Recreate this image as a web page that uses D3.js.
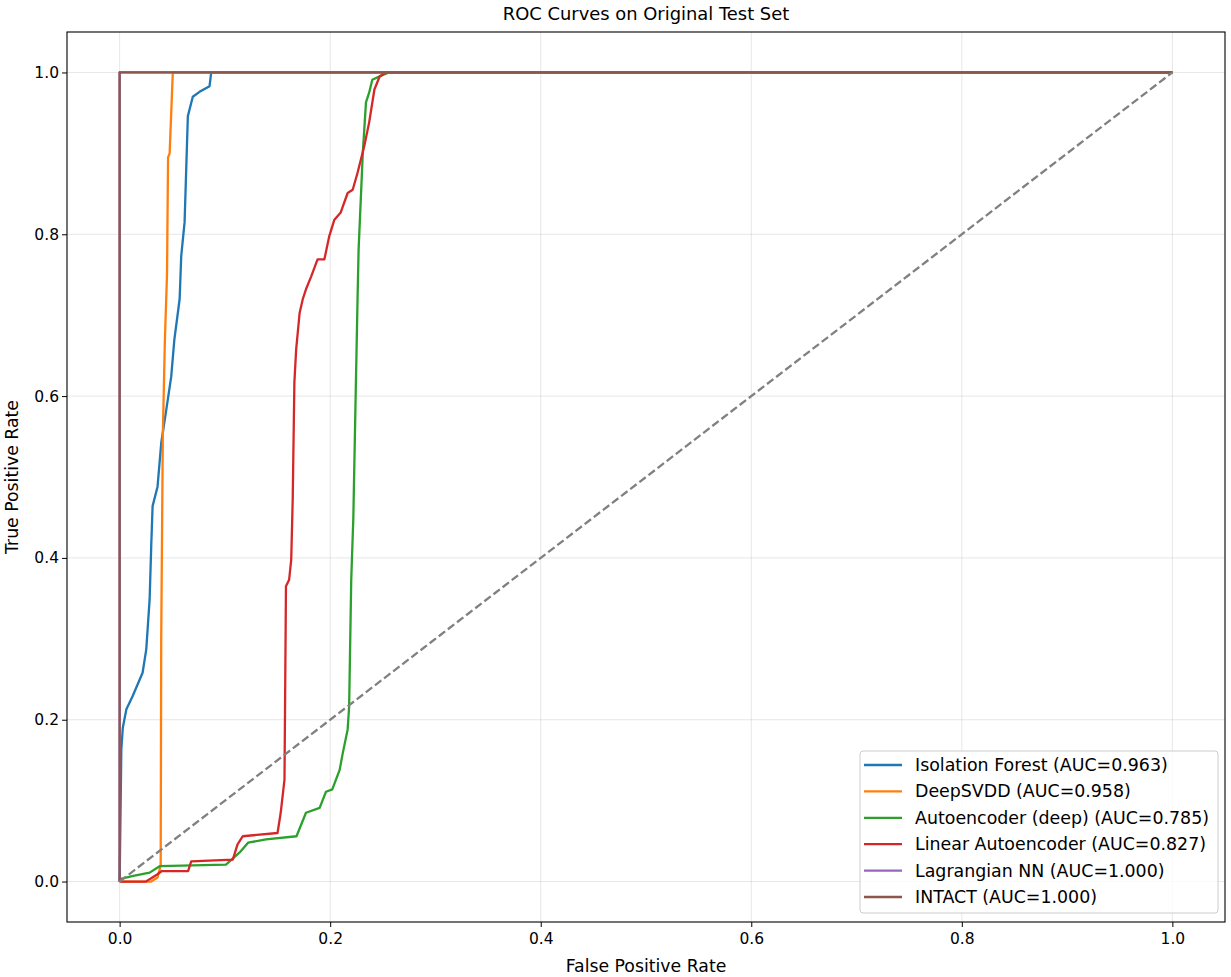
<!DOCTYPE html>
<html>
<head>
<meta charset="utf-8">
<script src="https://cdn.jsdelivr.net/npm/d3@7"></script>
<style>
    body { margin: 0; background: #fff; }
    svg text { font-family: "DejaVu Sans", sans-serif; fill: #000; }
</style>
</head>
<body>
<svg id="roc"></svg>
<script>
// data: [fpr, tpr] pairs per model
const isoForest = [[0,0],[0.001,0.1],[0.0016,0.163],[0.003,0.19],[0.0064,0.213],[0.0123,0.229],[0.0218,0.258],[0.0253,0.287],[0.0285,0.349],[0.030,0.414],[0.0313,0.464],[0.036,0.488],[0.0396,0.543],[0.0443,0.583],[0.049,0.624],[0.052,0.67],[0.057,0.72],[0.0585,0.773],[0.0617,0.815],[0.0648,0.946],[0.0695,0.970],[0.0759,0.976],[0.0854,0.983],[0.087,1.0],[1,1]];
const deepSvdd = [[0,0],[0.03,0],[0.036,0.005],[0.039,0.02],[0.0395,0.3],[0.041,0.55],[0.043,0.67],[0.045,0.75],[0.046,0.895],[0.0475,0.9],[0.0505,1],[1,1]];
const aeDeep = [[0,0],[0,0.003],[0.013,0.007],[0.0285,0.011],[0.038,0.019],[0.101,0.021],[0.114,0.036],[0.122,0.048],[0.139,0.052],[0.168,0.056],[0.177,0.085],[0.19,0.091],[0.196,0.111],[0.202,0.114],[0.209,0.138],[0.212,0.159],[0.2166,0.188],[0.218,0.216],[0.220,0.373],[0.222,0.45],[0.224,0.587],[0.226,0.72],[0.227,0.781],[0.231,0.901],[0.234,0.963],[0.237,0.975],[0.240,0.991],[0.25,0.997],[0.256,1],[1,1]];
const linearAe = [[0,0],[0.025,0],[0.03,0.004],[0.036,0.009],[0.040,0.013],[0.065,0.013],[0.068,0.025],[0.1075,0.027],[0.112,0.046],[0.117,0.056],[0.150,0.060],[0.153,0.085],[0.1566,0.126],[0.158,0.365],[0.161,0.373],[0.163,0.398],[0.1644,0.472],[0.166,0.617],[0.1677,0.658],[0.171,0.703],[0.174,0.72],[0.177,0.732],[0.182,0.748],[0.188,0.769],[0.1945,0.769],[0.199,0.797],[0.204,0.818],[0.210,0.827],[0.2166,0.851],[0.2214,0.855],[0.226,0.876],[0.2324,0.909],[0.237,0.938],[0.242,0.979],[0.247,0.995],[0.253,1],[1,1]];
const lagrangianNN = [[0,0],[0,1],[1,1]];
const intact = [[0,0],[0,1],[1,1]];

const modelNames = ['Isolation Forest (AUC=0.963)', 'DeepSVDD (AUC=0.958)', 'Autoencoder (deep) (AUC=0.785)',
    'Linear Autoencoder (AUC=0.827)', 'Lagrangian NN (AUC=1.000)', 'INTACT (AUC=1.000)'];
const modelColors = ['#1f77b4', '#ff7f0e', '#2ca02c', '#d62728', '#9467bd', '#8c564b'];
const modelCurves = [isoForest, deepSvdd, aeDeep, linearAe, lagrangianNN, intact];
const tickValues = [0, 0.2, 0.4, 0.6, 0.8, 1.0];

const size = { w: 1231, h: 977 };
const margin = { t: 32, r: 6, b: 55, l: 67 };

const svg = d3.select('svg#roc')
    .attr('width', size.w)
    .attr('height', size.h);

const pw = size.w - margin.l - margin.r;
const ph = size.h - margin.t - margin.b;

const x = d3.scaleLinear().domain([-0.05, 1.05]).range([0, pw]);
const y = d3.scaleLinear().domain([-0.05, 1.05]).range([ph, 0]);

const g = svg.append('g')
    .attr('transform', `translate(${margin.l}, ${margin.t})`);

// grid
g.append('g').selectAll('line')
    .data(tickValues)
    .join('line')
    .attr('x1', d => x(d)).attr('x2', d => x(d))
    .attr('y1', 0).attr('y2', ph)
    .attr('stroke', '#b0b0b0').attr('stroke-opacity', 0.3).attr('stroke-width', 1);
g.append('g').selectAll('line')
    .data(tickValues)
    .join('line')
    .attr('y1', d => y(d)).attr('y2', d => y(d))
    .attr('x1', 0).attr('x2', pw)
    .attr('stroke', '#b0b0b0').attr('stroke-opacity', 0.3).attr('stroke-width', 1);

const line = d3.line().x(d => x(d[0])).y(d => y(d[1]));

g.selectAll('path.curve')
    .data(modelCurves)
    .join('path')
    .classed('curve', true)
    .attr('d', line)
    .attr('fill', 'none')
    .attr('stroke', (d, i) => modelColors[i])
    .attr('stroke-width', 2.3)
    .attr('stroke-linejoin', 'round');

// chance diagonal
g.append('path')
    .attr('d', line([[0, 0], [1, 1]]))
    .attr('fill', 'none')
    .attr('stroke', '#808080')
    .attr('stroke-width', 2.3)
    .attr('stroke-dasharray', '8,3.5');

// axes
const fmt = d3.format('.1f');
const xAxis = g.append('g')
    .attr('transform', `translate(0, ${ph})`)
    .call(d3.axisBottom(x).tickValues(tickValues).tickFormat(fmt).tickSize(5).tickSizeOuter(0));
const yAxis = g.append('g')
    .call(d3.axisLeft(y).tickValues(tickValues).tickFormat(fmt).tickSize(5).tickSizeOuter(0));
[xAxis, yAxis].forEach(a => {
    a.select('.domain').remove();
    a.selectAll('text').style('font-size', '15.5px');
    a.selectAll('line').attr('stroke', '#000').attr('stroke-width', 1);
});
xAxis.selectAll('text').attr('dy', '0.9em');
yAxis.selectAll('text').attr('x', -8);

// frame
g.append('rect')
    .attr('width', pw).attr('height', ph)
    .attr('fill', 'none').attr('stroke', '#000').attr('stroke-width', 1.1);

// labels
svg.append('text')
    .attr('x', margin.l + pw / 2).attr('y', 20)
    .attr('text-anchor', 'middle')
    .style('font-size', '17.9px')
    .text('ROC Curves on Original Test Set');
svg.append('text')
    .attr('x', margin.l + pw / 2).attr('y', 972)
    .attr('text-anchor', 'middle')
    .style('font-size', '17.3px')
    .text('False Positive Rate');
svg.append('text')
    .attr('transform', `translate(18, ${margin.t + ph / 2}) rotate(-90)`)
    .attr('text-anchor', 'middle')
    .style('font-size', '17.3px')
    .text('True Positive Rate');

// legend
const legend = svg.append('g').attr('transform', 'translate(860, 751)');
legend.append('rect')
    .attr('width', 358).attr('height', 162)
    .attr('rx', 3)
    .attr('fill', '#fff').attr('fill-opacity', 0.8)
    .attr('stroke', '#cccccc');
const items = legend.selectAll('g.item')
    .data(modelNames)
    .join('g')
    .classed('item', true)
    .attr('transform', (d, i) => `translate(0, ${14 + i * 26.4})`);
items.append('line')
    .attr('x1', 4).attr('x2', 42)
    .attr('stroke', (d, i) => modelColors[i])
    .attr('stroke-width', 2.3);
items.append('text')
    .attr('x', 55).attr('dy', '0.35em')
    .style('font-size', '17.4px')
    .text(d => d);
</script>
</body>
</html>
